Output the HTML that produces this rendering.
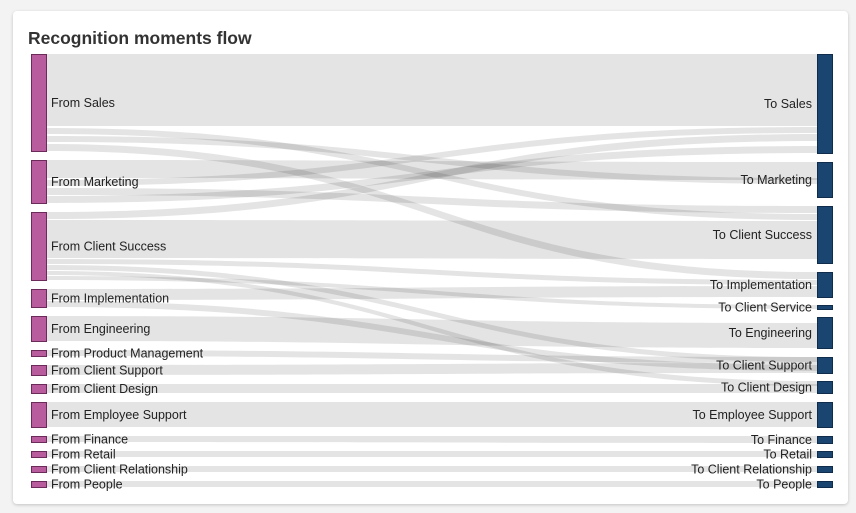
<!DOCTYPE html>
<html><head><meta charset="utf-8"><style>
html,body{margin:0;padding:0;background:#f3f3f3;width:856px;height:513px;overflow:hidden;font-family:"Liberation Sans",sans-serif;}
.card{position:absolute;left:13px;top:11px;width:835px;height:493px;background:#fff;border-radius:4px;box-shadow:0 1px 3px rgba(0,0,0,0.2);}
</style></head><body>
<div class="card"></div>
<svg width="856" height="513" style="position:absolute;left:0;top:0" xmlns="http://www.w3.org/2000/svg">
<text x="28" y="44" font-family="Liberation Sans, sans-serif" font-weight="bold" font-size="17.5" fill="#333">Recognition moments flow</text>
<g fill="#000" fill-opacity="0.105" id="links"></g>
<g id="nodes"></g>
</svg>
<script>
const L=[[54,126,54,126],[128,134,214,220],[136,142,178,184],[144,151,272,279],
[160,178,162,180],[180,186,127,133],[188,195,206,213],[196,203,146,153],
[212,219,134,141],[220,258,221,259],[259,264,280,285],[265,270,357,362],[271,275,381,386],[276,280,305,309],
[289,300,286,297],[301,307,365,371],[316,341,323,348],[350,356,357,363],[365,375,363,373],[384,393,384,393],
[402,427,402,427],[436,442,436,443],[451,457,451,457],[466,472,466,472],[481,487,481,487]];
const x0=46,x1=817,xm=431;let h='';
for(const [a,b,c,d] of L){h+=`<path d="M${x0} ${a}C${xm} ${a} ${xm} ${c} ${x1} ${c}L${x1} ${d}C${xm} ${d} ${xm} ${b} ${x0} ${b}Z"/>`;}
document.getElementById('links').innerHTML=h;
const LN=[["From Sales",54,151],["From Marketing",160,203],["From Client Success",212,280],["From Implementation",289,307],["From Engineering",316,341],["From Product Management",350,356],["From Client Support",365,375],["From Client Design",384,393],["From Employee Support",402,427],["From Finance",436,442],["From Retail",451,457],["From Client Relationship",466,472],["From People",481,487]];
const RN=[["To Sales",54,153],["To Marketing",162,197],["To Client Success",206,263],["To Implementation",272,297],["To Client Service",305,309],["To Engineering",317,348],["To Client Support",357,373],["To Client Design",381,393],["To Employee Support",402,427],["To Finance",436,443],["To Retail",451,457],["To Client Relationship",466,472],["To People",481,487]];
let n='';
for(const [t,a,b] of LN){n+=`<rect x="31.5" y="${a+.5}" width="15" height="${b-a}" fill="#b85c9e" stroke="#6b2a5a"/><text x="51" y="${(a+b)/2+4.5}" font-family="Liberation Sans, sans-serif" font-size="12.5" fill="#222">${t}</text>`;}
for(const [t,a,b] of RN){n+=`<rect x="817.5" y="${a+.5}" width="15" height="${b-a}" fill="#1b4571" stroke="#0f2c4d"/><text x="812" y="${(a+b)/2+4.5}" text-anchor="end" font-family="Liberation Sans, sans-serif" font-size="12.5" fill="#222">${t}</text>`;}
document.getElementById('nodes').innerHTML=n;
</script>
</body></html>
